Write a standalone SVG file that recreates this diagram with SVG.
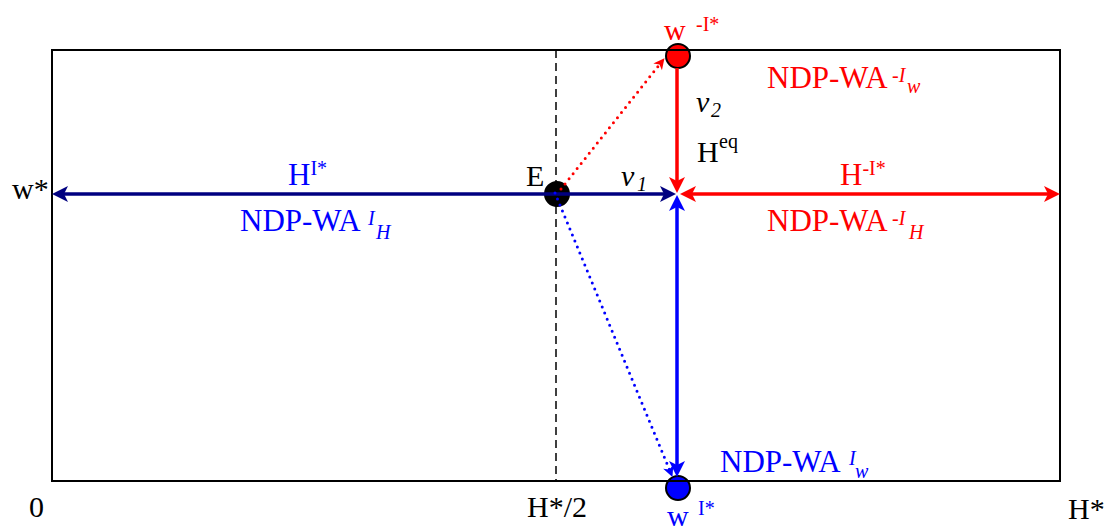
<svg xmlns="http://www.w3.org/2000/svg" width="1111" height="532" viewBox="0 0 1111 532" font-family="'Liberation Serif', 'Times New Roman', 'DejaVu Serif', serif">
<style>
text{font-family:"Liberation Serif","Times New Roman","DejaVu Serif",serif;font-size:30px}
.big{font-size:31px}
.k{fill:#000}
.r{fill:#ff0000}
.b{fill:#0000ff}
.sup{font-size:20px}
.it{font-style:italic}
.frame{fill:none;stroke:#000;stroke-width:2}
.dash{stroke:#000;stroke-width:1.5;stroke-dasharray:8 5}
.solid{fill:none;stroke-width:3.5}
.dot{fill:none;stroke-width:3;stroke-linecap:round;stroke-dasharray:0 6.5}
.node{stroke:#000;stroke-width:2}
</style>
<defs>
<marker id="ahN" markerUnits="userSpaceOnUse" viewBox="-6 -10 20 20" refX="0" refY="0" markerWidth="20" markerHeight="20" orient="auto-start-reverse"><path d="M-4,-8 L12,0 L-4,8 L0,0 Z" fill="#000080"/></marker>
<marker id="ahR" markerUnits="userSpaceOnUse" viewBox="-6 -10 20 20" refX="0" refY="0" markerWidth="20" markerHeight="20" orient="auto-start-reverse"><path d="M-4,-8 L12,0 L-4,8 L0,0 Z" fill="#ff0000"/></marker>
<marker id="ahB" markerUnits="userSpaceOnUse" viewBox="-6 -10 20 20" refX="0" refY="0" markerWidth="20" markerHeight="20" orient="auto-start-reverse"><path d="M-4,-8 L12,0 L-4,8 L0,0 Z" fill="#0000ff"/></marker>
<marker id="adR" markerUnits="userSpaceOnUse" viewBox="-5 -7 16 14" refX="0" refY="0" markerWidth="16" markerHeight="14" orient="auto"><path d="M-3,-5.5 L8,0 L-3,5.5 L0,0 Z" fill="#ff0000"/></marker>
<marker id="adB" markerUnits="userSpaceOnUse" viewBox="-5 -7 16 14" refX="0" refY="0" markerWidth="16" markerHeight="14" orient="auto"><path d="M-3,-5.5 L8,0 L-3,5.5 L0,0 Z" fill="#0000ff"/></marker>
</defs>

<g id="node-E">
<circle cx="557" cy="194" r="12" fill="#000" class="node"/>
<text class="k" x="526" y="186">E</text>
</g>
<g id="node-w-negI">
<circle cx="678" cy="56" r="12" fill="#ff0000" class="node"/>
<text class="r" x="664" y="40">w</text>
<text class="r sup" x="696" y="31">-I*</text>
</g>
<g id="node-w-I">
<circle cx="678" cy="488" r="12" fill="#0000ff" class="node"/>
<text class="b" x="667" y="526">w</text>
<text class="b sup" x="698" y="515">I*</text>
</g>

<g id="frame">
<rect class="frame" x="52" y="50" width="1008" height="431"/>
<line class="dash" x1="556" y1="50" x2="556" y2="481"/>
</g>

<g id="connectors">
<line class="solid" stroke="#000080" x1="64" y1="194" x2="664" y2="194" marker-start="url(#ahN)" marker-end="url(#ahN)"/>
<line class="solid" stroke="#ff0000" x1="692" y1="194" x2="1048" y2="194" marker-start="url(#ahR)" marker-end="url(#ahR)"/>
<line class="solid" stroke="#ff0000" x1="677" y1="68" x2="677" y2="181" marker-end="url(#ahR)"/>
<line class="solid" stroke="#0000ff" x1="677" y1="207" x2="677" y2="465" marker-start="url(#ahB)" marker-end="url(#ahB)"/>
<line class="dot" stroke="#ff0000" x1="561" y1="189" x2="659.5" y2="64.5" marker-end="url(#adR)"/>
<line class="dot" stroke="#0000ff" x1="555" y1="193" x2="669.4" y2="469.5" marker-end="url(#adB)"/>
</g>

<g id="labels">
<text class="k" x="12" y="199">w*</text>
<text class="k" x="29" y="517">0</text>
<text class="k" x="527" y="517">H*/2</text>
<text class="k" x="1068" y="519">H*</text>

<text class="b big" x="288" y="185">H<tspan class="sup" dy="-10">I*</tspan></text>
<text class="b big" x="240" y="231">NDP-WA</text>
<text class="b sup it" x="368" y="225">I</text>
<text class="b sup it" x="376" y="239">H</text>

<text class="k it" x="621" y="186">v</text>
<text class="k it sup" x="637" y="191">1</text>
<text class="k it" x="696" y="112">v</text>
<text class="k it sup" x="711" y="117">2</text>
<text class="k" x="697" y="162">H</text>
<text class="k sup" x="719" y="148">eq</text>

<text class="r big" x="840" y="185">H<tspan class="sup" dy="-10">-I*</tspan></text>
<text class="r big" x="767" y="231">NDP-WA</text>
<text class="r sup it" x="892" y="225">-I</text>
<text class="r sup it" x="909" y="239">H</text>
<text class="r big" x="767" y="88">NDP-WA</text>
<text class="r sup it" x="892" y="82">-I</text>
<text class="r sup it" x="907" y="93">w</text>

<text class="b big" x="720" y="472">NDP-WA</text>
<text class="b sup it" x="849" y="465">I</text>
<text class="b sup it" x="855" y="478">w</text>
</g>
</svg>
